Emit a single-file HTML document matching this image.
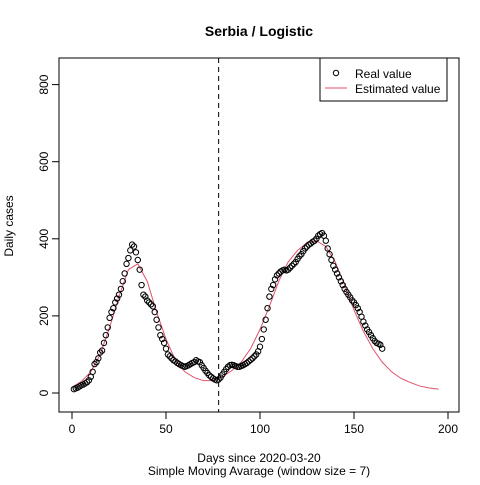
<!DOCTYPE html>
<html><head><meta charset="utf-8"><style>
body{margin:0;background:#fff}
text{font-family:"Liberation Sans",Arial,sans-serif;font-size:12px}
</style></head><body>
<svg id="c" width="480" height="480" xmlns="http://www.w3.org/2000/svg">
<rect width="480" height="480" fill="#fff"/>
<text x="259" y="36" text-anchor="middle" font-weight="bold" style="font-size:14px">Serbia / Logistic</text>
<rect x="59" y="58" width="400" height="354" fill="none" stroke="#000"/>
<g id="xaxis"></g>
<g id="yaxis"></g>
<text x="259" y="462" text-anchor="middle">Days since 2020-03-20</text>
<text x="259" y="475" text-anchor="middle">Simple Moving Avarage (window size = 7)</text>
<text transform="translate(13,226) rotate(-90)" text-anchor="middle">Daily cases</text>
<g id="marks"></g>
<g>
<rect x="320" y="58" width="127" height="43" fill="#fff" stroke="#000"/>
<circle cx="336" cy="73" r="2.7" fill="none" stroke="#000"/>
<text x="355" y="78">Real value</text>
<line x1="325" y1="88" x2="347" y2="88" stroke="#DF536B"/>
<text x="355" y="93">Estimated value</text>
</g>
</svg>
<script>
const realDays=[];for(let i=1;i<=165;i++)realDays.push(i);
const realValues=[10,12,14,17,20,22,25,28,33,42,55,75,80,90,105,110,130,150,170,195,210,220,235,245,255,270,290,310,335,350,370,385,380,365,345,320,280,255,250,240,235,230,225,210,190,170,150,140,130,115,100,95,90,85,82,78,75,72,70,68,70,72,75,78,80,85,82,80,72,65,58,52,46,42,38,35,33,35,40,48,55,62,68,72,73,72,70,68,68,70,72,75,78,82,86,90,95,100,108,120,140,165,190,220,250,270,280,295,305,310,315,318,320,318,320,325,330,335,340,348,355,360,368,375,380,385,388,392,395,400,408,412,415,408,395,375,360,345,330,320,310,300,290,280,270,262,255,248,240,235,228,220,210,198,185,175,165,158,150,142,135,130,128,125,115];
const fitDays=[0,5,10,15,20,25,30,35,40,45,50,55,60,65,70,75,80,85,90,95,100,105,110,115,120,125,130,135,140,145,150,155,160,165,170,175,180,185,190,195];
const fitValues=[15,30,55,100,170,250,320,335,290,210,140,85,55,40,32,32,42,58,80,115,165,225,290,340,370,390,395,380,340,280,215,160,115,80,55,38,27,18,13,10];
const xTicks=[0,50,100,150,200];
const yTicks=[0,200,400,600,800];
const splitDay=78;
const svg=document.getElementById('c'),NS='http://www.w3.org/2000/svg';
const X=d=>72+d*1.88, Y=v=>393-v*0.3855;
function mk(t,a,p){const e=document.createElementNS(NS,t);for(const k in a)e.setAttribute(k,a[k]);p.appendChild(e);return e;}
const xa=document.getElementById('xaxis'),ya=document.getElementById('yaxis'),mg=document.getElementById('marks');
mk('line',{x1:X(xTicks[0]),x2:X(xTicks[xTicks.length-1]),y1:412,y2:412,stroke:'#000'},xa);
xTicks.forEach(t=>{mk('line',{x1:X(t),x2:X(t),y1:412,y2:419,stroke:'#000'},xa);
const tx=mk('text',{x:X(t),y:433,'text-anchor':'middle'},xa);tx.textContent=t;

});
mk('line',{x1:59,x2:59,y1:Y(yTicks[0]),y2:Y(yTicks[yTicks.length-1]),stroke:'#000'},ya);
yTicks.forEach(t=>{mk('line',{x1:52,x2:59,y1:Y(t),y2:Y(t),stroke:'#000'},ya);
const tx=mk('text',{transform:`translate(48,${Y(t)}) rotate(-90)`,'text-anchor':'middle'},ya);tx.textContent=t;

});
const vl=mk('line',{x1:X(splitDay),x2:X(splitDay),y1:58,y2:412,stroke:'#000','stroke-dasharray':'5,4'},svg);


const fl=mk('polyline',{points:fitDays.map((d,i)=>X(d)+','+Y(fitValues[i])).join(' '),fill:'none',stroke:'#DF536B','stroke-width':1},mg);


realDays.forEach((d,i)=>{const c=mk('circle',{cx:X(d),cy:Y(realValues[i]),r:2.7,fill:'none',stroke:'#000'},mg);

});
</script>
</body></html>
